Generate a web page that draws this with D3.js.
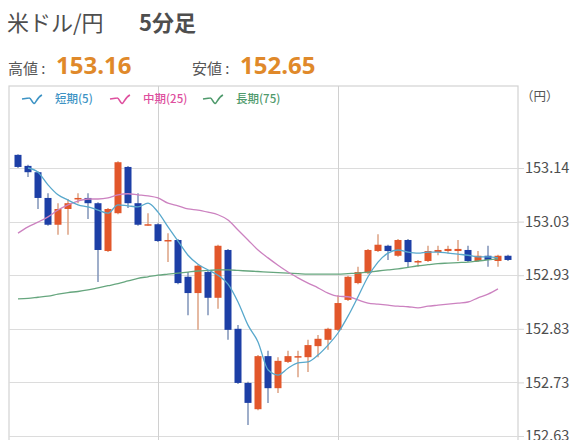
<!DOCTYPE html>
<html><head><meta charset="utf-8">
<script src="https://cdn.jsdelivr.net/npm/d3@7"></script>
<style>
html,body{margin:0;padding:0;background:#fff;}
svg{display:block;font-family:"Noto Sans CJK JP","Noto Sans",sans-serif;}
</style></head>
<body><svg id="c" width="576" height="440"></svg>
<script>
// ---- data ----
const times = ["08:50","08:55","09:00","09:05","09:10","09:15","09:20","09:25","09:30","09:35",
"09:40","09:45","09:50","09:55","10:00","10:05","10:10","10:15","10:20","10:25",
"10:30","10:35","10:40","10:45","10:50","10:55","11:00","11:05","11:10","11:15",
"11:20","11:25","11:30","11:35","11:40","11:45","11:50","11:55","12:00","12:05",
"12:10","12:15","12:20","12:25","12:30","12:35","12:40","12:45","12:50","12:55"];
const open  = [153.165,153.144,153.132,153.083,153.032,153.062,153.081,153.083,153.073,152.982,
153.054,153.142,153.073,153.032,153.033,153.001,153.003,152.933,152.902,152.942,
152.893,152.984,152.834,152.731,152.681,152.782,152.721,152.771,152.780,152.780,
152.801,152.813,152.832,152.889,152.921,152.940,152.982,152.992,152.973,153.003,
152.962,152.963,152.980,152.982,152.982,152.984,152.963,152.973,152.963,152.973];
const high  = [153.166,153.146,153.134,153.092,153.073,153.081,153.092,153.092,153.075,153.064,
153.153,153.144,153.092,153.054,153.035,153.016,153.005,152.942,152.956,152.944,
152.994,152.986,152.841,152.733,152.784,152.792,152.780,152.792,152.792,152.813,
152.822,152.836,152.898,152.935,152.952,152.986,153.014,152.994,153.005,153.005,
152.965,152.992,152.992,152.992,153.003,152.992,152.982,152.992,152.975,152.975];
const low   = [153.140,153.123,153.062,153.030,153.013,153.013,153.073,153.043,152.923,152.980,
153.052,153.064,153.030,153.030,152.999,152.961,152.919,152.860,152.832,152.860,
152.872,152.813,152.729,152.651,152.679,152.693,152.712,152.769,152.742,152.752,
152.780,152.794,152.830,152.887,152.919,152.938,152.980,152.965,152.971,152.950,
152.952,152.961,152.974,152.978,152.963,152.961,152.961,152.952,152.952,152.963];
const close = [153.142,153.132,153.083,153.032,153.062,153.073,153.083,153.073,152.984,153.062,
153.151,153.073,153.032,153.033,153.001,153.003,152.921,152.902,152.954,152.893,
152.992,152.832,152.731,152.693,152.782,152.721,152.773,152.782,152.782,152.803,
152.815,152.834,152.883,152.933,152.942,152.984,152.994,152.982,153.003,152.961,
152.963,152.982,152.984,152.986,152.986,152.963,152.973,152.965,152.973,152.965];
// moving averages (null = not drawn)
const maShort = [null,153.140,153.132,153.108,153.089,153.079,153.070,153.066,153.060,153.054,
153.070,153.068,153.066,153.073,153.056,153.028,153.001,152.974,152.957,152.946,
152.936,152.919,152.885,152.841,152.809,152.756,152.746,152.759,152.769,152.771,
152.784,152.803,152.826,152.858,152.895,152.933,152.961,152.978,152.984,152.980,
152.978,152.980,152.980,152.978,152.976,152.974,152.971,152.971,152.969,null];
const maMid = [153.016,153.028,153.037,153.047,153.060,153.070,153.077,153.081,153.081,153.083,
153.089,153.091,153.089,153.087,153.083,153.073,153.068,153.062,153.060,153.056,
153.051,153.041,153.022,153.003,152.984,152.969,152.955,152.942,152.931,152.921,
152.912,152.902,152.896,152.895,152.889,152.883,152.881,152.879,152.877,152.876,
152.874,152.877,152.879,152.881,152.883,152.885,152.893,152.900,152.910,null];
const maLong = [152.891,152.892,152.894,152.896,152.900,152.903,152.905,152.908,152.912,152.916,
152.920,152.925,152.930,152.933,152.936,152.938,152.940,152.942,152.944,152.945,
152.946,152.946,152.945,152.944,152.943,152.942,152.941,152.940,152.939,152.938,
152.938,152.938,152.938,152.939,152.940,152.942,152.944,152.946,152.948,152.951,
152.954,152.956,152.958,152.959,152.960,152.961,152.963,152.965,152.967,null];
const tickValues = [153.14,153.038,152.936,152.834,152.732,152.63];
const tickLabels = ["153.14","153.03","152.93","152.83","152.73","152.63"];
const gridTimes = ["10:00","11:30"];
const title = "米ドル/円", titleSub = "5分足";
const hiLabel = "高値", hiValue = "153.16", loLabel = "安値", loValue = "152.65";
const legend = [{name:"短期(5)",key:"s"},{name:"中期(25)",key:"m"},{name:"長期(75)",key:"l"}];

// ---- drawing ----
const svg = d3.select("#c");
const L = 9, R = 518, T = 86, B = 460;
const x = d3.scaleBand().domain(times).range([13, 513]).paddingInner(0.3).paddingOuter(0.15);
const y = d3.scaleLinear().domain([152.63, 153.14]).range([436, 168]);
const cx = t => x(t) + x.bandwidth()/2;

const colUp = "#e2572b", colDn = "#1d3fa6";
const wickUp = "#dca283", wickDn = "#7f93b8";
const maCol = {s:"#58a8cc", m:"#cc82c0", l:"#66a67e"};
const legCol = {s:"#3d93c4", m:"#de4f9e", l:"#4f9a6c"};

// frame
svg.append("rect").attr("x",L).attr("y",T).attr("width",R-L).attr("height",B-T)
  .attr("fill","none").attr("stroke","#d2d2d2").attr("stroke-width",1.2);

// horizontal grid + right axis
const axis = d3.axisRight(y).tickValues(tickValues).tickFormat((d,i)=>tickLabels[i])
  .tickSize(6).tickPadding(1);
const gA = svg.append("g").attr("transform",`translate(${R},0)`).call(axis);
gA.select(".domain").remove();
gA.selectAll(".tick line").attr("stroke","#d6d6d6");
gA.selectAll(".tick text").attr("fill","#4e4e4e").style("font-size","14.5px")
  .style("font-family","'Noto Sans CJK JP',sans-serif");
svg.append("g").selectAll("line").data(tickValues).join("line")
  .attr("x1",L).attr("x2",R).attr("y1",d=>Math.round(y(d))+0.5).attr("y2",d=>Math.round(y(d))+0.5)
  .attr("stroke","#dcdcdc");
// vertical grid
svg.append("g").selectAll("line").data(gridTimes).join("line")
  .attr("x1",d=>Math.round(cx(d))+0.5).attr("x2",d=>Math.round(cx(d))+0.5)
  .attr("y1",T).attr("y2",B).attr("stroke","#d0d0d0");

svg.append("text").attr("x",521).attr("y",101).attr("fill","#555")
  .style("font-size","12.5px").text("（円）");

// candles
const idx = d3.range(times.length);
const gc = svg.append("g");
gc.selectAll("line").data(idx).join("line")
  .attr("x1",i=>cx(times[i])).attr("x2",i=>cx(times[i]))
  .attr("y1",i=>y(high[i])).attr("y2",i=>y(low[i]))
  .attr("stroke",i=>close[i]>=open[i]?wickUp:wickDn).attr("stroke-width",1.5);
gc.selectAll("rect").data(idx).join("rect")
  .attr("x",i=>x(times[i])).attr("width",x.bandwidth())
  .attr("y",i=>y(Math.max(open[i],close[i])))
  .attr("height",i=>Math.max(1.5,Math.abs(y(open[i])-y(close[i]))))
  .attr("fill",i=>close[i]>=open[i]?colUp:colDn);

// moving averages
const mk = arr => d3.line().defined(i=>arr[i]!=null).x(i=>cx(times[i])).y(i=>y(arr[i])).curve(d3.curveMonotoneX);
[["l",maLong],["m",maMid],["s",maShort]].forEach(([k,arr])=>{
  svg.append("path").attr("d",mk(arr)(idx)).attr("fill","none")
    .attr("stroke",maCol[k]).attr("stroke-width",1.3);
});

// legend
const legX = [22,110,203];
legend.forEach((d,i)=>{
  const g = svg.append("g").attr("transform",`translate(${legX[i]},98)`);
  g.append("path").attr("d","M0,1 L7,0 C9,-0.5 10,5 12,5.5 C14,5.5 15,-1 20,-3")
    .attr("fill","none").attr("stroke",legCol[d.key]).attr("stroke-width",1.6);
  g.append("text").attr("x",33).attr("y",4.5).attr("fill",legCol[d.key])
    .style("font-size","11.5px").style("font-weight","500").text(d.name);
});

// title
svg.append("text").attr("x",7).attr("y",31).attr("fill","#4e4e4e").style("font-size","22px").text(title);
svg.append("text").attr("x",139).attr("y",31).attr("fill","#4e4e4e").style("font-size","22px")
  .style("font-weight","bold").text(titleSub);

svg.append("text").attr("x",8).attr("y",74).attr("fill","#555").style("font-size","15px").text(hiLabel + " :");
svg.append("text").attr("x",56).attr("y",74).attr("fill","#e0892a").style("font-size","24px").style("font-weight","bold")
  .style("font-family","'Open Sans',sans-serif").text(hiValue);
svg.append("text").attr("x",192).attr("y",74).attr("fill","#555").style("font-size","15px").text(loLabel + " :");
svg.append("text").attr("x",240).attr("y",74).attr("fill","#e0892a").style("font-size","24px").style("font-weight","bold")
  .style("font-family","'Open Sans',sans-serif").text(loValue);
</script></body></html>
